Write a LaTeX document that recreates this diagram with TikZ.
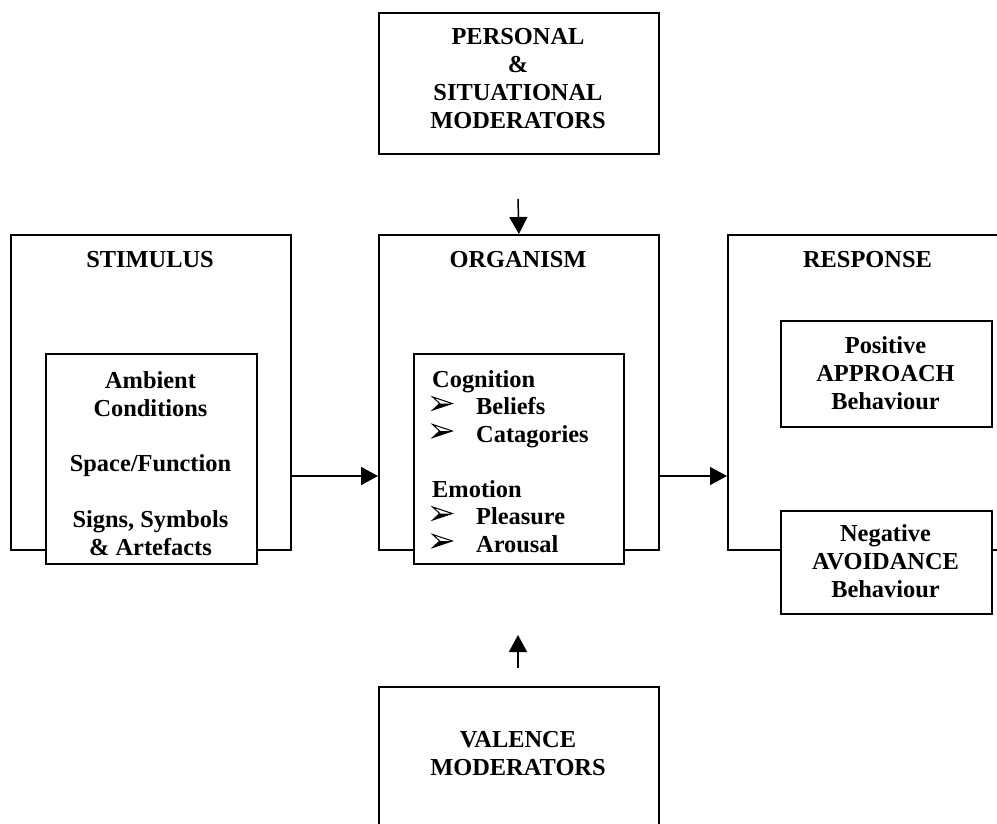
\documentclass[tikz,border=0pt]{standalone}
\usepackage{fontspec}
\setmainfont{Liberation Serif}
\usetikzlibrary{arrows.meta}

\tikzset{
  box/.style={draw, line width=1.8pt, fill=white, inner sep=0pt, anchor=north west},
  lbl/.style={font=\fontsize{24.4}{28}\selectfont\bfseries, inner sep=0pt, anchor=base, align=center},
  lbll/.style={font=\fontsize{24.4}{27.5}\selectfont\bfseries, inner sep=0pt, anchor=base west, align=left},
  arr/.style={line width=1.5pt, -{Triangle[length=17pt,width=18pt]}},
}

% three-dimensional arrowhead bullet, 44pt wide including the gap
\newcommand\arrowbullet{\makebox[44pt][l]{\tikz[baseline=0pt,x=1pt,y=1pt]{%
  \fill[black] (7,11) -- (19.5,11) -- (0,4.5) -- cycle;
  \draw[black, line width=1pt, line join=miter] (0,17.5) -- (19.5,11) -- (0,4.5) -- (7,11) -- cycle;}}}

\begin{document}
\begin{tikzpicture}[x=1pt, y=-1pt]
\useasboundingbox (0,0) rectangle (997,823);
\clip (0,0) rectangle (997,823);

% multi-line labels are placed by the baseline of their last line

% moderators
\node[box, minimum width=280pt, minimum height=141pt] (pers) at (378,12) {};
\node[lbl] (persT) at (518,128) {PERSONAL\\\&\\SITUATIONAL\\MODERATORS};

\node[box, minimum width=280pt, minimum height=160pt] (val) at (378,686) {};
\node[lbl] (valT) at (518,775) {VALENCE\\MODERATORS};

% stimulus
\node[box, minimum width=280pt, minimum height=315pt] (stim) at (10,234) {};
\node[lbl] (stimT) at (150,267) {STIMULUS};
\node[box, minimum width=211pt, minimum height=210pt] (stimIn) at (45,353) {};
\node[lbl, font=\fontsize{24.4}{27.7}\selectfont\bfseries] (stimTx) at (150.5,555)
  {Ambient\\Conditions\\[27.7pt]Space/Function\\[27.7pt]Signs, Symbols\\\& Artefacts};

% organism
\node[box, minimum width=280pt, minimum height=315pt] (org) at (378,234) {};
\node[lbl] (orgT) at (518,267) {ORGANISM};
\node[box, minimum width=210pt, minimum height=210pt] (orgIn) at (413,353) {};
\node[lbll] (orgTx) at (432,552)
  {Cognition\\\arrowbullet Beliefs\\\arrowbullet Catagories\\[27.5pt]Emotion\\\arrowbullet Pleasure\\\arrowbullet Arousal};

% response
\node[box, minimum width=290pt, minimum height=315pt] (resp) at (727,234) {};
\node[lbl] (respT) at (867.5,267) {RESPONSE};
\node[box, minimum width=211pt, minimum height=106pt] (pos) at (780,320) {};
\node[lbl] (posT) at (885.5,409) {Positive\\APPROACH\\Behaviour};
\node[box, minimum width=211pt, minimum height=103pt] (neg) at (780,510) {};
\node[lbl] (negT) at (885.5,597) {Negative\\AVOIDANCE\\Behaviour};

% connectors
\coordinate (flow) at (0,476);
\coordinate (persIn) at (518,199);
\coordinate (valIn) at (518,668);
\coordinate (valTip) at (518,635);
\draw[arr] (persIn) -- (org.north);
\draw[arr] (valIn) -- (valTip);
\draw[arr] (stim.east |- flow) -- (org.west |- flow);
\draw[arr] (org.east |- flow) -- (resp.west |- flow);
\end{tikzpicture}
\end{document}
